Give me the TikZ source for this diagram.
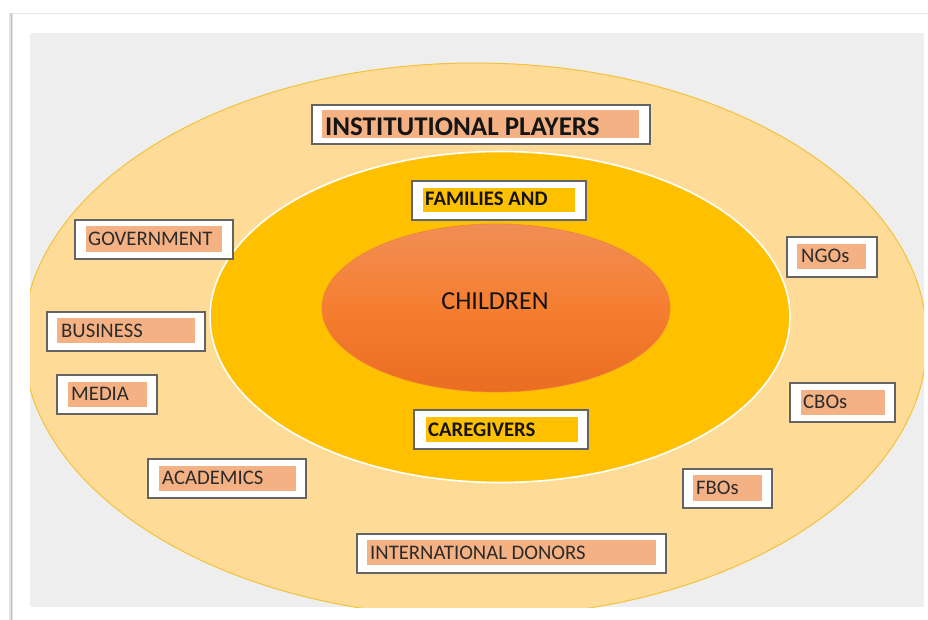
\documentclass[tikz,border=0pt]{standalone}
\usepackage{fontspec}
\setmainfont{Carlito}
\usetikzlibrary{shapes.geometric,fit}
\definecolor{pageline}{HTML}{C4C4C4}
\definecolor{bggray}{HTML}{EEEEEE}
\definecolor{outerfill}{HTML}{FEDC98}
\definecolor{outerline}{HTML}{F2C23E}
\definecolor{gold}{HTML}{FFC000}
\definecolor{orgtop}{HTML}{F18E55}
\definecolor{orgmid}{HTML}{F57E30}
\definecolor{orgbot}{HTML}{EA6D22}
\definecolor{orgline}{HTML}{EE8040}
\definecolor{salmon}{HTML}{F4B183}
\definecolor{boxline}{HTML}{646464}
\definecolor{txtreg}{HTML}{2B2B2B}
\definecolor{txtbold}{HTML}{141414}
\tikzset{
  obox/.style={draw=boxline, fill=white, line width=1.3pt, inner sep=0pt, rectangle},
  ibox/.style={fill=salmon, inner sep=0pt, rectangle},
  ybox/.style={fill=gold, inner sep=0pt, rectangle},
  regtxt/.style={anchor=base west, inner sep=0pt, text=txtreg, font=\fontsize{20.7}{24}\selectfont},
  boldtxt/.style={anchor=base west, inner sep=0pt, text=txtbold, font=\fontsize{20.7}{24}\selectfont\bfseries},
}
\begin{document}
\begin{tikzpicture}[x=1pt,y=-1pt]
\useasboundingbox (0,0) rectangle (928,620);
\fill[white] (0,0) rectangle (928,620);
% page edges
\fill[pageline!50] (9,13) rectangle (13,620);
\fill[pageline] (10.5,13) rectangle (12,620);
\draw[pageline!40, line width=0.8pt] (12,13.5) -- (928,13.5);
% gray background
\fill[bggray] (30,33) rectangle (924,607);
\begin{scope}
  \clip (30,33) rectangle (924,607);
  \node[ellipse, minimum width=904pt, minimum height=554pt, inner sep=0pt,
        fill=outerfill, draw=outerline, line width=1pt] (outer) at (475,340) {};
\end{scope}
\node[ellipse, minimum width=580pt, minimum height=331pt, inner sep=0pt,
      fill=gold, draw=white, line width=1.6pt] (middle) at (500,317) {};
\node[ellipse, minimum width=348pt, minimum height=168pt, inner sep=0pt,
      top color=orgtop, bottom color=orgbot, middle color=orgmid,
      draw=orgline, line width=0.6pt] (inner) at (496,308) {};
\node[anchor=base, inner sep=0pt, text=txtbold, font=\fontsize{26}{30}\selectfont] (children) at (495,309) {CHILDREN};

% INSTITUTIONAL PLAYERS
\node[obox, fit={(312,105) (650,144)}] (inst) {};
\node[ibox, fit={(322,110) (639,138)}] (instin) {};
\node[boldtxt, font=\fontsize{27}{30}\selectfont\bfseries] (instt) at (325,136) {INSTITUTIONAL PLAYERS};

% FAMILIES AND
\node[obox, fit={(412,181) (586,220)}] (fam) {};
\node[ybox, fit={(423,188) (575,212)}] (famin) {};
\node[boldtxt] (famt) at (425,206) {FAMILIES AND};

% CAREGIVERS
\node[obox, fit={(414,410) (588,449)}] (care) {};
\node[ybox, fit={(426,417) (578,442)}] (carein) {};
\node[boldtxt] (caret) at (428,436) {CAREGIVERS};

% GOVERNMENT
\node[obox, fit={(75,220) (233,259)}] (gov) {};
\node[ibox, fit={(86,226) (222,252)}] (govin) {};
\node[regtxt] (govt) at (88,246) {GOVERNMENT};

% NGOs
\node[obox, fit={(787,237) (877,277)}] (ngo) {};
\node[ibox, fit={(797,244) (866,269)}] (ngoin) {};
\node[regtxt] (ngot) at (801,262) {NGOs};

% BUSINESS
\node[obox, fit={(47,312) (205,351)}] (bus) {};
\node[ibox, fit={(57,318) (195,343)}] (busin) {};
\node[regtxt] (bust) at (61,337) {BUSINESS};

% MEDIA
\node[obox, fit={(57,375) (157,414)}] (media) {};
\node[ibox, fit={(68,382) (147,407)}] (mediain) {};
\node[regtxt] (mediat) at (71,400) {MEDIA};

% ACADEMICS
\node[obox, fit={(148,459) (306,498)}] (acad) {};
\node[ibox, fit={(159,466) (296,491)}] (acadin) {};
\node[regtxt] (acadt) at (162,484) {ACADEMICS};

% INTERNATIONAL DONORS
\node[obox, fit={(357,534) (666,573)}] (intl) {};
\node[ibox, fit={(367,540) (656,565)}] (intlin) {};
\node[regtxt] (intlt) at (370,559) {INTERNATIONAL DONORS};

% CBOs
\node[obox, fit={(790,383) (895,422)}] (cbo) {};
\node[ibox, fit={(801,390) (885,415)}] (cboin) {};
\node[regtxt] (cbot) at (803,408) {CBOs};

% FBOs
\node[obox, fit={(683,469) (772,508)}] (fbo) {};
\node[ibox, fit={(693,475) (762,501)}] (fboin) {};
\node[regtxt] (fbot) at (696,494) {FBOs};
\end{tikzpicture}
\end{document}
